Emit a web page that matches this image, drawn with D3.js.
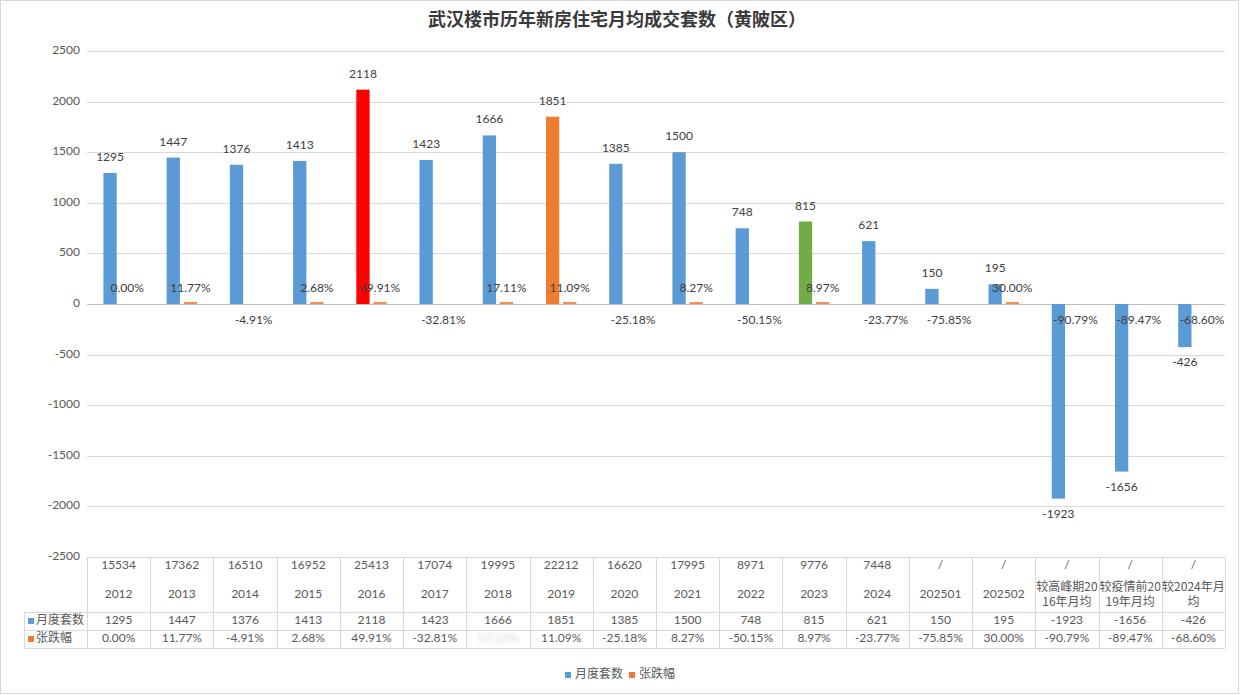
<!DOCTYPE html>
<html><head><meta charset="utf-8">
<script src="https://cdn.jsdelivr.net/npm/d3@7"></script>
<style>
html,body{margin:0;padding:0;background:#fff;}
svg{display:block;font-family:"Lato","Noto Sans CJK SC",sans-serif;}
</style></head>
<body><svg id="c" width="1240" height="695"></svg>
<script>
const title = "武汉楼市历年新房住宅月均成交套数（黄陂区）";
const categories = ["2012","2013","2014","2015","2016","2017","2018","2019","2020","2021","2022","2023","2024","202501","202502","较高峰期20\n16年月均","较疫情前20\n19年月均","较2024年月\n均"];
const yearTotals = ["15534","17362","16510","16952","25413","17074","19995","22212","16620","17995","8971","9776","7448","/","/","/","/","/"];
const monthly = [1295,1447,1376,1413,2118,1423,1666,1851,1385,1500,748,815,621,150,195,-1923,-1656,-426];
const change = [0.00,11.77,-4.91,2.68,49.91,-32.81,17.11,11.09,-25.18,8.27,-50.15,8.97,-23.77,-75.85,30.00,-90.79,-89.47,-68.60];
const seriesNames = ["月度套数","张跌幅"];
const yTicks = [-2500,-2000,-1500,-1000,-500,0,500,1000,1500,2000,2500];

const BLUE="#5B9BD5", ORANGE="#ED7D31";
const highlight = {"2016":"#FF0000","2019":"#ED7D31","2023":"#70AD47"};
const TXT="#404040", AX="#595959", GRID="#d9d9d9";

const svg = d3.select("#c");
svg.append("rect").attr("x",0.5).attr("y",0.5).attr("width",1238).attr("height",693)
  .attr("fill","#fff").attr("stroke","#d9d9d9");

const defs = svg.append("defs");
defs.append("filter").attr("id","blur").append("feGaussianBlur").attr("stdDeviation",2.2);

svg.append("text").attr("x",617).attr("y",21).attr("text-anchor","middle")
  .attr("dominant-baseline","middle").attr("font-size",18).attr("font-weight","bold")
  .attr("fill","#3a3a3a").attr("font-family","'Noto Sans CJK SC',sans-serif").text(title);

const x = d3.scaleBand().domain(categories).range([87,1225]);
const y = d3.scaleLinear().domain([-2500,2500]).range([557,51]);
const bw = x.bandwidth();
const barW = 13.3;

// grid
svg.append("g").selectAll("line").data(yTicks).join("line")
  .attr("x1",87).attr("x2",1225)
  .attr("y1",d=>Math.round(y(d))+0.5).attr("y2",d=>Math.round(y(d))+0.5)
  .attr("stroke",d=>d===0?"#bfbfbf":GRID).attr("stroke-width",1);
svg.append("g").selectAll("text").data(yTicks).join("text")
  .attr("x",80).attr("y",d=>y(d)).attr("text-anchor","end").attr("dominant-baseline","middle")
  .attr("font-size",12).attr("fill",AX).text(d=>d);

const y0 = y(0);
// blue bars
svg.append("g").selectAll("rect").data(categories).join("rect")
  .attr("x",(c)=>x(c)+bw/2-15.2).attr("width",barW)
  .attr("y",(c,i)=>Math.min(y(monthly[i]),y0))
  .attr("height",(c,i)=>Math.abs(y(monthly[i])-y0))
  .attr("fill",c=>highlight[c]||BLUE);
// orange bars (percent values on same axis -> tiny)
svg.append("g").selectAll("rect").data(categories).join("rect")
  .attr("x",(c)=>x(c)+bw/2+1.9).attr("width",barW)
  .attr("y",(c,i)=>{const h=Math.abs(y(change[i]/100)-y0); return change[i]>0? y0-Math.max(h,2): y0;})
  .attr("height",(c,i)=>{const h=Math.abs(y(change[i]/100)-y0); return change[i]>0? Math.max(h,2): h;})
  .attr("fill",ORANGE).attr("opacity",0.85);

// value labels
svg.append("g").selectAll("text").data(categories).join("text")
  .attr("x",c=>x(c)+bw/2-15.2+barW/2)
  .attr("y",(c,i)=>monthly[i]>=0? y(monthly[i])-15 : y(monthly[i])+16)
  .attr("text-anchor","middle").attr("dominant-baseline","middle")
  .attr("font-size",12).attr("fill",TXT).text((c,i)=>monthly[i]);
svg.append("g").selectAll("text").data(categories).join("text")
  .attr("x",c=>x(c)+bw/2+1.9+barW/2)
  .attr("y",(c,i)=>change[i]>=0? y0-15 : y0+17)
  .attr("text-anchor","middle").attr("dominant-baseline","middle")
  .attr("font-size",12).attr("fill",TXT).text((c,i)=>change[i].toFixed(2)+"%");

// data table
const tTop=557, r1=612, r2=630, r3=648, tLeft=24;
const tg = svg.append("g");
[r1,r2,r3].forEach(yy=>tg.append("line").attr("x1",tLeft).attr("x2",1225).attr("y1",yy+0.5).attr("y2",yy+0.5).attr("stroke",GRID));
const edges = categories.map(c=>x(c)).concat([x.range()[1]]);
tg.selectAll("line.v").data(edges).join("line").attr("class","v")
  .attr("x1",d=>Math.round(d)+0.5).attr("x2",d=>Math.round(d)+0.5)
  .attr("y1",tTop).attr("y2",r3).attr("stroke",GRID);
tg.append("line").attr("x1",tLeft+0.5).attr("x2",tLeft+0.5).attr("y1",r1).attr("y2",r3).attr("stroke",GRID);

categories.forEach((c,i)=>{
  const cx = x(c)+bw/2;
  tg.append("text").attr("x",cx).attr("y",566).attr("text-anchor","middle").attr("dominant-baseline","middle")
    .attr("font-size",12).attr("fill",AX).text(yearTotals[i]);
  const lines = c.split("\n");
  if(lines.length===1){
    tg.append("text").attr("x",cx).attr("y",595).attr("text-anchor","middle").attr("dominant-baseline","middle")
      .attr("font-size",12).attr("fill",AX).text(c);
  } else {
    lines.forEach((ln,k)=>tg.append("text").attr("x",cx).attr("y",588+k*15).attr("text-anchor","middle")
      .attr("dominant-baseline","middle").attr("font-size",12).attr("fill",AX)
      .attr("font-family","'Noto Sans CJK SC',sans-serif").text(ln));
  }
  tg.append("text").attr("x",cx).attr("y",621).attr("text-anchor","middle").attr("dominant-baseline","middle")
    .attr("font-size",12).attr("fill",AX).text(monthly[i]);
  const t = tg.append("text").attr("x",cx).attr("y",639).attr("text-anchor","middle").attr("dominant-baseline","middle")
    .attr("font-size",12).attr("fill",AX).text(change[i].toFixed(2)+"%");
  if(c==="2018"){ t.attr("fill","#c8c8c8").attr("filter","url(#blur)"); }
});
// legend keys in table
[[BLUE,621],[ORANGE,639]].forEach(([col,yy],k)=>{
  tg.append("rect").attr("x",28).attr("y",yy-3).attr("width",6).attr("height",6).attr("fill",col);
  tg.append("text").attr("x",36).attr("y",yy).attr("dominant-baseline","middle").attr("font-size",12)
    .attr("fill",AX).text(seriesNames[k]);
});

// bottom legend
const lg = svg.append("g");
[[BLUE,565,575],[ORANGE,629,639]].forEach(([col,sx,tx],k)=>{
  lg.append("rect").attr("x",sx).attr("y",672).attr("width",6).attr("height",6).attr("fill",col);
  lg.append("text").attr("x",tx).attr("y",675).attr("dominant-baseline","middle").attr("font-size",12)
    .attr("fill",AX).text(seriesNames[k]);
});
</script></body></html>
